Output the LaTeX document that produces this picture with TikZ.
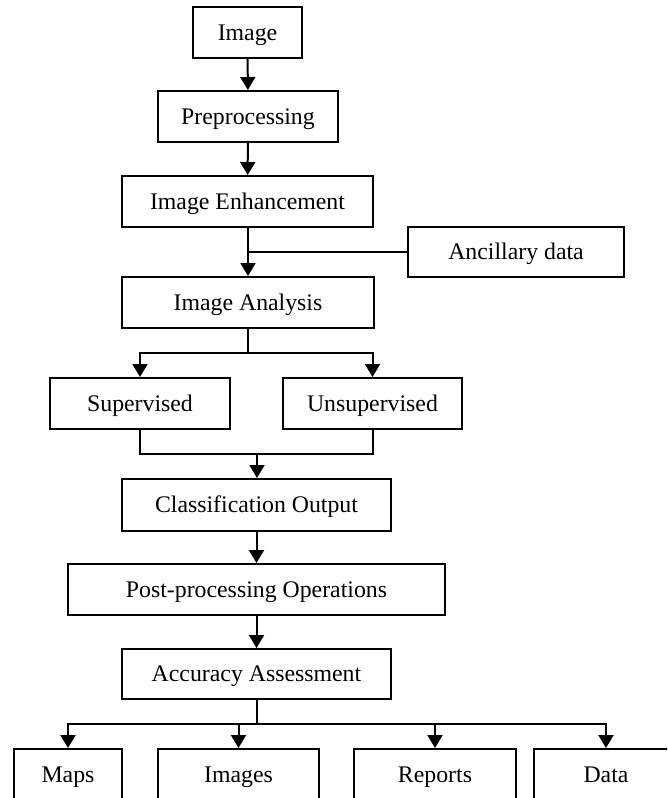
\documentclass[tikz,border=0pt]{standalone}
\usepackage{fontspec}
\setmainfont{Liberation Serif}
\usetikzlibrary{arrows.meta}
\begin{document}
\begin{tikzpicture}[x=1pt,y=-1pt,
  box/.style={draw=black,line width=2pt,fill=white,rectangle,inner sep=0pt,
    minimum height=51pt,text height=15pt,text depth=0pt,
    font=\fontsize{23.8}{28}\selectfont},
  link/.style={line width=2pt,draw=black},
  flow/.style={link,-{Triangle[width=15pt,length=13pt]}}]
\useasboundingbox (0,0) rectangle (667,798);
\clip (0,0) rectangle (667,798);

% main processing chain
\node[box,minimum width=109pt] (img)  at (247.5,32.5)  {Image};
\node[box,minimum width=180pt] (pre)  at (248,116.5)   {Preprocessing};
\node[box,minimum width=251pt] (enh)  at (247.5,201.5) {Image Enhancement};
\node[box,minimum width=216pt,minimum height=50pt] (anc) at (516,252) {Ancillary data};
\node[box,minimum width=252pt] (ana)  at (248,302.5)   {Image Analysis};
\node[box,minimum width=180pt] (sup)  at (140,403.5)   {Supervised};
\node[box,minimum width=179pt] (uns)  at (372.5,403.5) {Unsupervised};
\node[box,minimum width=269pt,minimum height=52pt] (cls) at (256.5,505) {Classification Output};
\node[box,minimum width=377pt] (post) at (256.5,589.5) {Post-processing Operations};
\node[box,minimum width=269pt,minimum height=50pt] (acc) at (256.5,674) {Accuracy Assessment};

% products
\node[box,minimum width=108pt,minimum height=52pt] (maps) at (68,775)    {Maps};
\node[box,minimum width=161pt,minimum height=52pt] (imgs) at (238.5,775) {Images};
\node[box,minimum width=162pt,minimum height=52pt] (reps) at (435,775)   {Reports};
\node[box,minimum width=144pt,minimum height=52pt] (data) at (606,775)   {Data};

% junction points
\coordinate (j1) at (enh.south |- anc.west);
\coordinate (j2) at (248,353);
\coordinate (j3) at (257,454);
\coordinate (j4) at (256.5,724);

\draw[flow] (img) -- (pre);
\draw[flow] (pre) -- (enh);
\draw[link] (enh.south) -- (j1);
\draw[link] (anc.west) -- (j1);
\draw[flow] (j1) -- (ana.north |- j1) -- (ana.north);

\draw[link] (ana.south) -- (j2);
\draw[flow] (j2) -| (sup.north);
\draw[flow] (j2) -| (uns.north);

\draw[link] (sup.south) |- (j3);
\draw[link] (uns.south) |- (j3);
\draw[flow] (j3) -- (j3 |- cls.north);

\draw[flow] (cls) -- (post);
\draw[flow] (post) -- (acc);

\draw[link] (acc.south) -- (j4);
\draw[flow] (j4) -| (maps.north);
\draw[flow] (j4) -| (imgs.north);
\draw[flow] (j4) -| (reps.north);
\draw[flow] (j4) -| (data.north);
\end{tikzpicture}
\end{document}
